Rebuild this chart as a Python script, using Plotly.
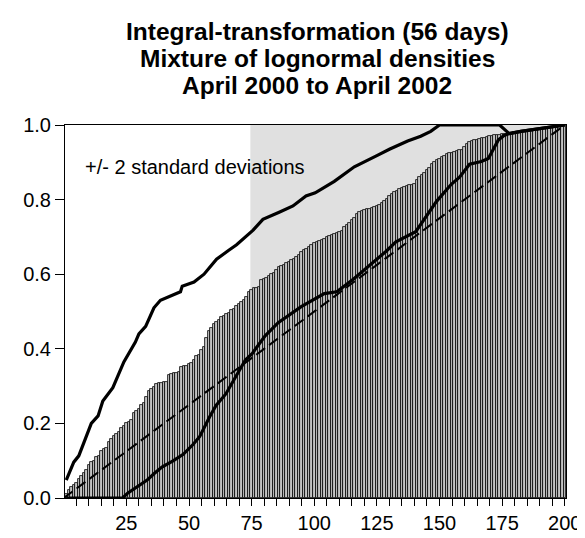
import plotly.graph_objects as go

# ---- data ----
obs = list(range(1, 201))
cdf_values = [
    0.012, 0.022, 0.030, 0.035, 0.040, 0.052, 0.058, 0.066, 0.074, 0.088,
    0.096, 0.100, 0.109, 0.112, 0.126, 0.131, 0.134, 0.150, 0.157, 0.166,
    0.172, 0.178, 0.188, 0.193, 0.200, 0.205, 0.209, 0.228, 0.234, 0.238,
    0.250, 0.256, 0.270, 0.287, 0.293, 0.297, 0.305, 0.307, 0.309, 0.310,
    0.312, 0.331, 0.333, 0.334, 0.336, 0.337, 0.352, 0.353, 0.355, 0.358,
    0.362, 0.371, 0.380, 0.384, 0.398, 0.405, 0.428, 0.447, 0.455, 0.466,
    0.471, 0.476, 0.485, 0.488, 0.492, 0.497, 0.505, 0.508, 0.516, 0.520,
    0.525, 0.530, 0.540, 0.553, 0.558, 0.562, 0.564, 0.567, 0.585, 0.588,
    0.591, 0.595, 0.600, 0.604, 0.612, 0.618, 0.621, 0.626, 0.630, 0.633,
    0.637, 0.642, 0.646, 0.652, 0.660, 0.664, 0.668, 0.672, 0.678, 0.683,
    0.686, 0.689, 0.691, 0.694, 0.699, 0.702, 0.704, 0.707, 0.710, 0.713,
    0.716, 0.726, 0.731, 0.737, 0.744, 0.750, 0.762, 0.768, 0.770, 0.772,
    0.774, 0.776, 0.778, 0.780, 0.782, 0.785, 0.790, 0.795, 0.802, 0.810,
    0.815, 0.820, 0.824, 0.828, 0.831, 0.834, 0.836, 0.838, 0.840, 0.842,
    0.852, 0.860, 0.866, 0.872, 0.880, 0.886, 0.895, 0.900, 0.905, 0.910,
    0.914, 0.918, 0.921, 0.924, 0.926, 0.928, 0.930, 0.932, 0.934, 0.940,
    0.948, 0.955, 0.958, 0.959, 0.960, 0.962, 0.964, 0.966, 0.968, 0.970,
    0.971, 0.972, 0.973, 0.974, 0.975, 0.976, 0.977, 0.978, 0.979, 0.980,
    0.981, 0.982, 0.983, 0.984, 0.985, 0.986, 0.987, 0.988, 0.989, 0.990,
    0.990, 0.991, 0.992, 0.993, 0.994, 0.995, 0.996, 0.997, 0.998, 1.000,
]

upper_x = [1, 4, 6, 8, 11, 13.7, 15.6, 19.6, 24, 28.6, 30, 32.7, 36, 38.6, 43.3,
           46.6, 47.3, 52, 56, 61, 65.6, 69, 75.6, 79.5, 86, 91.5, 96.7, 100.4,
           108, 116, 125, 130, 137.3, 142.5, 146.5, 149, 150, 174, 175.8,
           177.8, 182.5, 190, 198, 200]
upper_y = [0.048, 0.096, 0.113, 0.150, 0.200, 0.220, 0.260, 0.296, 0.365, 0.418,
           0.440, 0.460, 0.510, 0.530, 0.544, 0.553, 0.568, 0.579, 0.600, 0.640,
           0.663, 0.679, 0.718, 0.747, 0.766, 0.783, 0.810, 0.818, 0.849, 0.888,
           0.918, 0.935, 0.957, 0.970, 0.983, 0.994, 1.000, 1.000, 0.988, 0.977,
           0.983, 0.990, 0.999, 1.000]

lower_x = [1, 23.5, 25.5, 29.4, 33.3, 36, 39.2, 43.8, 47.7, 51.7, 54.3, 58.2,
           60.8, 64.7, 67.3, 72.5, 75.2, 80.4, 85.6, 94.8, 104, 109, 115.7, 122,
           128.6, 132.6, 140.5, 148.9, 154.7, 158, 162, 166.7, 169.5, 171.5,
           173.5, 175.8, 177.8, 182.5, 190, 198, 200]
lower_y = [0.0, 0.0, 0.013, 0.030, 0.048, 0.065, 0.083, 0.100, 0.117, 0.144,
           0.165, 0.217, 0.248, 0.279, 0.309, 0.370, 0.387, 0.435, 0.470, 0.513,
           0.548, 0.553, 0.587, 0.622, 0.661, 0.687, 0.714, 0.796, 0.841, 0.860,
           0.895, 0.902, 0.910, 0.935, 0.960, 0.972, 0.977, 0.983, 0.990, 0.999,
           1.000]

uniform_x = [0, 200]
uniform_y = [0.0, 1.0]

shade_start = 74.5
shade_end = 200.5

x_tickvals = [25, 50, 75, 100, 125, 150, 175, 200]
y_tickvals = [0.0, 0.2, 0.4, 0.6, 0.8, 1.0]
y_ticktext = ["0.0", "0.2", "0.4", "0.6", "0.8", "1.0"]

title_lines = ["Integral-transformation (56 days)",
               "Mixture of lognormal densities",
               "April 2000 to April 2002"]
band_label = "+/- 2 standard deviations"

FONT = "Liberation Sans, Arial, sans-serif"

fig = go.Figure()

fig.add_trace(go.Bar(
    x=obs, y=cdf_values,
    marker=dict(color="#c4c4c4", line=dict(color="black", width=0.8)),
    width=1.0, showlegend=False,
))

fig.add_trace(go.Scatter(
    x=uniform_x, y=uniform_y, mode="lines",
    line=dict(color="black", width=2, dash="11px,5px"),
    showlegend=False,
))

for xs, ys in [(upper_x, upper_y), (lower_x, lower_y)]:
    fig.add_trace(go.Scatter(
        x=xs, y=ys, mode="lines",
        line=dict(color="black", width=3.2),
        cliponaxis=False, showlegend=False,
    ))

fig.add_shape(type="rect", xref="x", yref="y", x0=shade_start, x1=shade_end,
              y0=0, y1=1, fillcolor="#e0e0e0", line=dict(width=0), layer="below")

fig.add_annotation(x=7.5, y=0.888, xref="x", yref="y", text=band_label,
                   showarrow=False, xanchor="left", yanchor="middle",
                   font=dict(family=FONT, size=20, color="black"))

W, H = 585, 538
pl, pr, pt, pb = 57, 18, 117, 38
pw, ph = W - pl - pr, H - pt - pb

for i, line in enumerate(title_lines):
    px_x, px_y = 314, 21 + 27.5 * i
    fig.add_annotation(x=(px_x - pl) / pw, y=(H - pb - px_y) / ph,
                       xref="paper", yref="paper",
                       text="<b>" + line + "</b>", showarrow=False,
                       xanchor="center", yanchor="middle",
                       font=dict(family=FONT, size=24.5, color="black"))

fig.update_layout(
    width=W, height=H,
    margin=dict(l=pl, r=pr, t=pt, b=pb),
    plot_bgcolor="white", paper_bgcolor="white",
    bargap=0, showlegend=False,
    font=dict(family=FONT, size=20, color="black"),
    xaxis=dict(range=[0.5, 200.5], tickvals=x_tickvals, ticks="outside",
               ticklen=7, tickwidth=1, tickcolor="black", showgrid=False,
               zeroline=False, showline=True, linecolor="black", linewidth=1,
               mirror=True,
               minor=dict(dtick=5, tick0=0, ticks="outside", ticklen=7,
                          tickcolor="black", showgrid=False)),
    yaxis=dict(range=[0, 1], tickvals=y_tickvals, ticktext=y_ticktext,
               ticks="outside", ticklen=9, tickwidth=1, tickcolor="black",
               showgrid=False, zeroline=False, showline=True,
               linecolor="black", linewidth=1, mirror=True),
)

fig.write_html("out.html")
